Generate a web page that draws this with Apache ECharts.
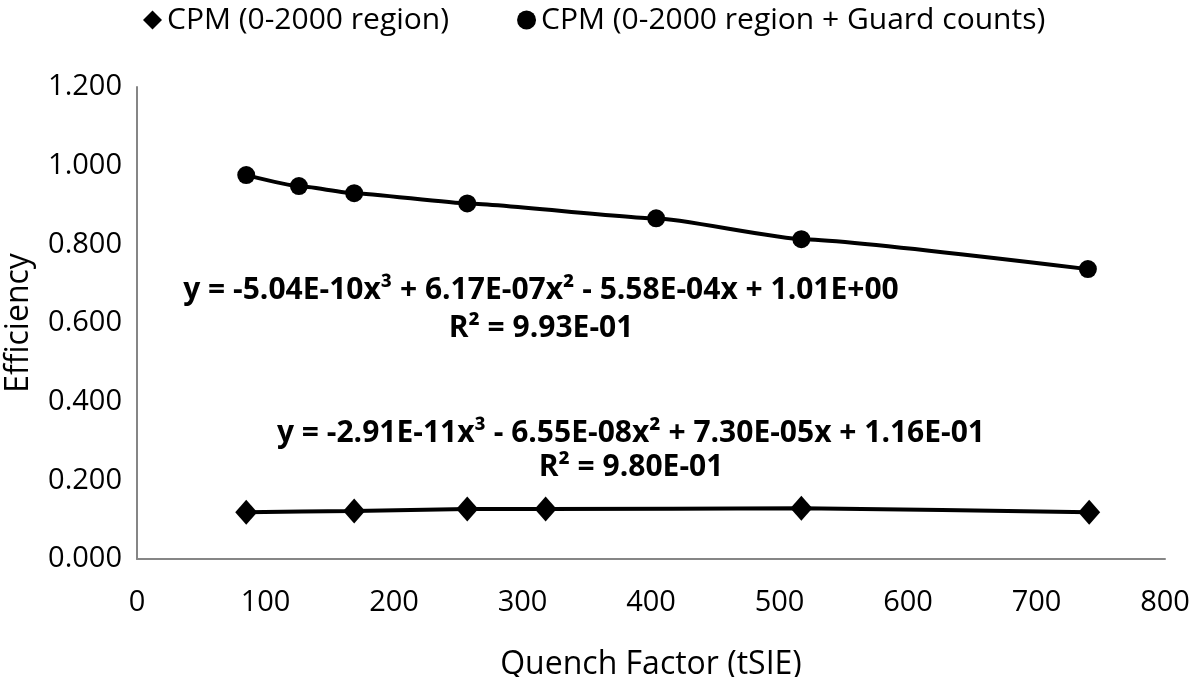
<!DOCTYPE html>
<html>
<head>
<meta charset="utf-8">
<script src="https://cdn.jsdelivr.net/npm/echarts@6/dist/echarts.min.js"></script>
<style>html,body{margin:0;padding:0;background:#fff}#c{width:1200px;height:677px}</style>
</head>
<body>
<div id="c"></div>
<script>
var seriesNames = ['CPM (0-2000 region)', 'CPM (0-2000 region + Guard counts)'];
var xDiamond = [85, 169, 257, 318, 517, 741];
var yDiamond = [0.119, 0.122, 0.127, 0.127, 0.129, 0.119];
var xCircle = [85, 126, 169, 257, 404, 517, 740];
var yCircle = [0.976, 0.948, 0.930, 0.904, 0.866, 0.813, 0.737];
var eqUpper = 'y = -5.04E-10x³ + 6.17E-07x² - 5.58E-04x + 1.01E+00';
var r2Upper = 'R² = 9.93E-01';
var eqLower = 'y = -2.91E-11x³ - 6.55E-08x² + 7.30E-05x + 1.16E-01';
var r2Lower = 'R² = 9.80E-01';

function pairs(xs, ys){ return xs.map(function(x,i){ return [x, ys[i]]; }); }

var FONT = 'Open Sans';
var EQFONT = 'bold 30px "Open Sans"';
var chart = echarts.init(document.getElementById('c'));
chart.setOption({
  animation: false,
  backgroundColor: '#fff',
  textStyle: {fontFamily: FONT, color: '#000'},
  legend: {
    top: 0, left: 138, itemGap: 68, itemWidth: 19, itemHeight: 19,
    textStyle: {fontFamily: FONT, fontSize: 30, color: '#000'},
    data: [{name: seriesNames[0], icon: 'diamond'}, {name: seriesNames[1], icon: 'circle'}]
  },
  grid: {left: 137, right: 35, top: 87, bottom: 118, containLabel: false, outerBoundsMode: 'none'},
  xAxis: {
    type: 'value', min: 0, max: 800, interval: 100,
    name: 'Quench Factor (tSIE)', nameLocation: 'middle', nameGap: 90,
    nameTextStyle: {fontFamily: FONT, fontSize: 32, color: '#000'},
    axisLine: {show: true, lineStyle: {color: '#868686', width: 2}},
    axisTick: {show: false},
    splitLine: {show: false},
    axisLabel: {fontFamily: FONT, fontSize: 29, color: '#000', margin: 29}
  },
  yAxis: {
    type: 'value', min: 0, max: 1.2, interval: 0.2,
    name: 'Efficiency', nameLocation: 'middle', nameGap: 102,
    nameTextStyle: {fontFamily: FONT, fontSize: 32, color: '#000'},
    axisLine: {show: true, lineStyle: {color: '#868686', width: 2}},
    axisTick: {show: false},
    splitLine: {show: false},
    axisLabel: {fontFamily: FONT, fontSize: 29, color: '#000', margin: 15,
      formatter: function(v){ return v.toFixed(3); }}
  },
  series: [
    {name: seriesNames[0], type: 'line', smooth: 0.15, smoothMonotone: 'x', data: pairs(xDiamond, yDiamond),
     symbol: 'diamond', symbolSize: [22, 25],
     itemStyle: {color: '#000'}, lineStyle: {color: '#000', width: 4}},
    {name: seriesNames[1], type: 'line', smooth: 0.15, smoothMonotone: 'x', data: pairs(xCircle, yCircle),
     symbol: 'circle', symbolSize: 18,
     itemStyle: {color: '#000'}, lineStyle: {color: '#000', width: 4}}
  ],
  graphic: [
    {type: 'text', x: 541, y: 290, style: {text: eqUpper, font: EQFONT, fill: '#000', align: 'center', verticalAlign: 'middle'}},
    {type: 'text', x: 541, y: 328, style: {text: r2Upper, font: EQFONT, fill: '#000', align: 'center', verticalAlign: 'middle'}},
    {type: 'text', x: 631, y: 433, style: {text: eqLower, font: EQFONT, fill: '#000', align: 'center', verticalAlign: 'middle'}},
    {type: 'text', x: 631, y: 467, style: {text: r2Lower, font: EQFONT, fill: '#000', align: 'center', verticalAlign: 'middle'}}
  ]
});
</script>
</body>
</html>
